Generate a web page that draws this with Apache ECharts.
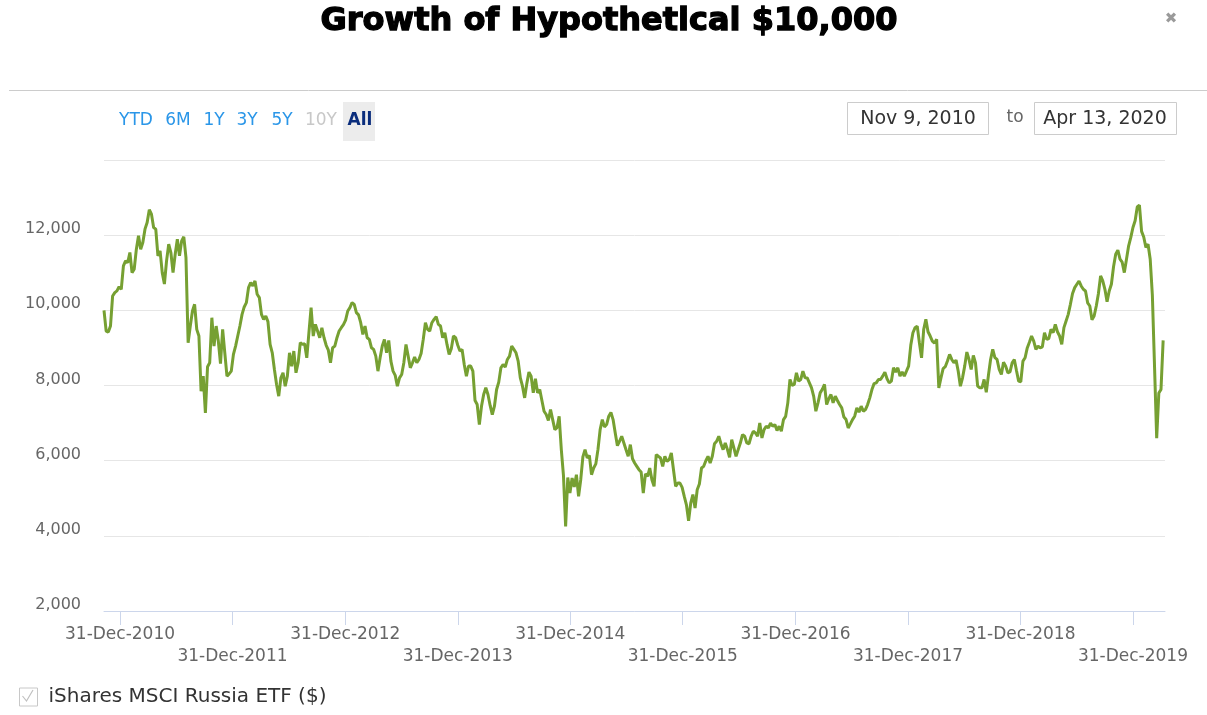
<!DOCTYPE html>
<html><head><meta charset="utf-8">
<script src="https://cdn.jsdelivr.net/npm/echarts@6/dist/echarts.min.js"></script>
<style>html,body{margin:0;padding:0;background:#fff}#chart{width:1207px;height:715px}</style>
</head><body><div id="chart"></div>
<script>
const titleText = 'Growth of Hypothetical $10,000';
const seriesName = 'iShares MSCI Russia ETF ($)';
const rangeButtons = ['YTD', '6M', '1Y', '3Y', '5Y', '10Y', 'All'];
const fromDateLabel = 'Nov 9, 2010';
const toDateLabel = 'Apr 13, 2020';
const rangeStart = [2010, 10, 9];   // Nov 9, 2010 (month 0-based)
const rangeEnd = [2020, 3, 13];     // Apr 13, 2020
const tickYears = [2010, 2011, 2012, 2013, 2014, 2015, 2016, 2017, 2018, 2019];
const yTicks = [2000, 4000, 6000, 8000, 10000, 12000, 14000];
const monthNames = ['Jan','Feb','Mar','Apr','May','Jun','Jul','Aug','Sep','Oct','Nov','Dec'];
// weekly values starting Nov 9, 2010 (one value every 7 days)
const weeklyValues = [
10000,9449,9422,9582,10382,10471,10516,10631,10560,11182,11316,11271,11538,11004,11093,11627,11982,11627,11804,12160,
12338,12676,12560,12204,12160,11449,11582,11004,10700,11316,11760,11538,11004,11493,11893,11449,11849,11956,11400,9138,
9582,9982,10160,9493,9316,7849,8249,7271,8500,8604,9804,9049,9582,9182,8580,9493,8871,8249,8310,8382,
8827,9049,9316,9582,9893,10090,10204,10604,10738,10649,10782,10427,10340,9893,9760,9849,9700,9093,8871,8427,
8027,7716,8204,8338,7982,8249,8871,8510,8916,8338,8604,9138,9093,9110,8738,9404,10071,9316,9627,9450,
9271,9538,9271,9070,8940,8604,9004,9049,9271,9449,9538,9620,9740,9982,10071,10204,10160,9938,9880,9671,
9360,9582,9271,9227,9004,8960,8782,8382,8740,9049,9227,8871,9200,8649,8382,8270,7982,8204,8293,8604,
9093,8782,8471,8604,8760,8604,8693,8850,9227,9671,9493,9449,9671,9760,9830,9627,9582,9271,9404,9093,
8827,8980,9316,9271,9070,8916,8960,8560,8249,8520,8516,8382,7600,7493,6960,7449,7760,7938,7760,7470,
7227,7449,7893,8090,8471,8560,8490,8693,8782,9049,8960,8871,8649,8200,7982,7671,8050,8356,8249,7804,
8180,7804,7893,7600,7316,7227,7070,7360,7093,6827,6880,7182,6293,5600,4249,5550,5138,5538,5300,5627,
5049,5493,6100,6293,6071,6140,5627,5804,5915,6300,6827,7093,6900,6960,7182,7280,7093,6738,6400,6516,
6649,6471,6290,6116,6427,6050,5938,5849,5760,5700,5138,5650,5582,5804,5493,5316,6160,6116,6070,5849,
6116,5980,6027,6204,5760,5316,5404,5404,5290,5049,4827,4400,4871,5100,4738,5227,5380,5804,5849,6000,
6116,5938,6116,6450,6516,6649,6450,6293,6471,6300,6090,6560,6338,6116,6293,6470,6693,6649,6471,6450,
6649,6782,6740,6649,7004,6604,6827,6916,6871,7000,6916,6960,6800,6916,6782,7093,7180,7538,8160,8000,
8027,8338,8116,8160,8382,8204,8200,8071,7938,7710,7316,7538,7804,7900,8027,7493,7650,7760,7538,7716,
7600,7493,7404,7160,7093,6871,6980,7093,7182,7404,7290,7449,7316,7360,7493,7671,7893,8050,8071,8160,
8160,8249,8356,8180,8071,8116,8471,8360,8471,8249,8360,8249,8382,8516,9070,9404,9538,9580,9138,8738,
9493,9760,9430,9316,9182,9130,9227,7938,8204,8450,8500,8650,8827,8693,8604,8676,8380,7982,8204,8516,
8890,8693,8427,8800,8604,7982,7938,7940,8160,7822,8270,8693,8960,8740,8693,8427,8293,8620,8516,8338,
8360,8604,8693,8400,8116,8100,8649,8738,9000,9150,9316,9182,8960,9049,9004,9030,9404,9227,9250,9493,
9404,9627,9430,9316,9093,9540,9716,9893,10160,10450,10604,10693,10780,10649,10560,10516,10200,10116,9750,9849,
10116,10450,10916,10782,10560,10230,10516,10693,11160,11493,11600,11360,11280,11004,11360,11716,11940,12204,12382,12750,
12800,12100,11950,11671,11760,11360,10400,8516,6600,7800,7893,9200
];

const FONT = '"DejaVu Sans", "Open Sans", sans-serif';
const startTs = new Date(rangeStart[0], rangeStart[1], rangeStart[2]).getTime();
const endTs = new Date(rangeEnd[0], rangeEnd[1], rangeEnd[2]).getTime();
const seriesData = weeklyValues.map((v, i) => [new Date(rangeStart[0], rangeStart[1], rangeStart[2] + 7 * i).getTime(), v]);
const tickValues = tickYears.map(y => new Date(y, 11, 31).getTime());

// header graphics
const btnCenters = [136, 178, 214, 247, 282, 321, 360];
const btnColors = ['#2a96e8', '#2a96e8', '#2a96e8', '#2a96e8', '#2a96e8', '#c8c8c8', '#0a2d7c'];
const graphics = [
  { type: 'text', style: { text: titleText, x: 609, y: 22, align: 'center', verticalAlign: 'middle',
      font: 'bold 32px "DejaVu Sans", sans-serif', fill: '#000', stroke: '#000', lineWidth: 1.3 } },
  { type: 'text', style: { text: '\u2716', x: 1171, y: 19, align: 'center', verticalAlign: 'middle', font: '15px "DejaVu Sans"', fill: '#9a9a9a' } },
  { type: 'line', shape: { x1: 9, y1: 90.5, x2: 1207, y2: 90.5 }, style: { stroke: '#cccccc', lineWidth: 1 } },
  { type: 'rect', shape: { x: 343, y: 102, width: 32, height: 39 }, style: { fill: '#ececec' } },
  { type: 'rect', shape: { x: 847.5, y: 102.5, width: 141, height: 32 }, style: { fill: '#fff', stroke: '#cccccc', lineWidth: 1 } },
  { type: 'rect', shape: { x: 1034.5, y: 102.5, width: 142, height: 32 }, style: { fill: '#fff', stroke: '#cccccc', lineWidth: 1 } },
  { type: 'text', style: { text: fromDateLabel, x: 918, y: 119, align: 'center', verticalAlign: 'middle', font: '19px ' + FONT, fill: '#333' } },
  { type: 'text', style: { text: 'to', x: 1015, y: 118, align: 'center', verticalAlign: 'middle', font: '17px ' + FONT, fill: '#666' } },
  { type: 'text', style: { text: toDateLabel, x: 1105, y: 119, align: 'center', verticalAlign: 'middle', font: '19px ' + FONT, fill: '#333' } },
  { type: 'polyline', z: 100, zlevel: 1, shape: { points: [[22.5, 696], [26.5, 701], [33, 690]] }, style: { stroke: '#c0c0c0', lineWidth: 1.2, fill: null } }
];
rangeButtons.forEach((b, i) => {
  graphics.push({ type: 'text', style: { text: b, x: btnCenters[i], y: 121, align: 'center', verticalAlign: 'middle',
    font: (b === 'All' ? 'bold ' : '') + '17px ' + FONT, fill: btnColors[i] } });
});

const chart = echarts.init(document.getElementById('chart'), null, { renderer: 'canvas' });
chart.setOption({
  animation: false,
  backgroundColor: '#fff',
  graphic: graphics,
  grid: { left: 104, right: 42, top: 160, bottom: 104, containLabel: false },
  legend: {
    data: [seriesName], left: 14, top: 682, itemWidth: 18, itemHeight: 18, icon: 'rect', selectedMode: false,
    itemStyle: { color: '#fff', borderColor: '#c8c8c8', borderWidth: 1 },
    textStyle: { fontFamily: FONT, fontSize: 20, color: '#333', padding: [0, 0, 0, 6] }
  },
  xAxis: {
    type: 'value', min: startTs, max: endTs,
    axisLine: { show: true, lineStyle: { color: '#ccd6eb', width: 1 } },
    axisTick: { show: true, customValues: tickValues, length: 14, lineStyle: { color: '#ccd6eb' } },
    splitLine: { show: false },
    axisLabel: {
      customValues: tickValues, hideOverlap: false, margin: 13, showMinLabel: true, showMaxLabel: true,
      fontFamily: FONT, fontSize: 17, color: '#666', lineHeight: 22,
      formatter: function (val) {
        const d = new Date(val);
        const s = d.getDate() + '-' + monthNames[d.getMonth()] + '-' + d.getFullYear();
        return d.getFullYear() % 2 === 1 ? '\n' + s : s;
      }
    }
  },
  yAxis: {
    type: 'value', min: yTicks[0], max: yTicks[yTicks.length - 1], interval: 2000,
    axisLine: { show: false }, axisTick: { show: false },
    splitLine: { lineStyle: { color: '#e6e6e6', width: 1 } },
    axisLabel: {
      showMaxLabel: false, margin: 23, fontFamily: FONT, fontSize: 16, color: '#666',
      verticalAlign: 'bottom', lineHeight: 12,
      formatter: v => v.toLocaleString('en-US')
    }
  },
  series: [{
    name: seriesName, type: 'line', data: seriesData, showSymbol: false, symbol: 'none',
    lineStyle: { color: '#76a032', width: 3 }, itemStyle: { color: '#76a032' }
  }]
});
</script></body></html>
